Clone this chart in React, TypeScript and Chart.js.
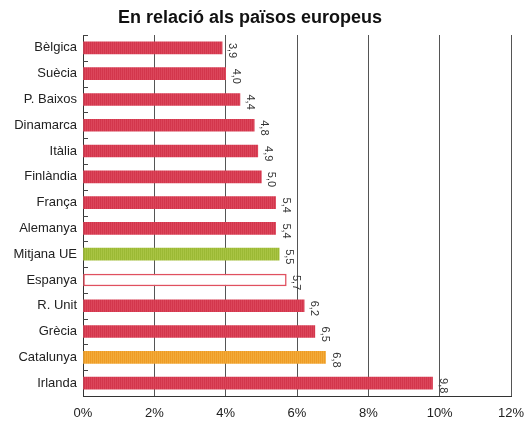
import React, { useEffect, useRef } from "react";
import { Chart, registerables } from "chart.js";

Chart.register(...registerables);

const TITLE = "En relació als països europeus";
const categories = [
  "Bèlgica", "Suècia", "P. Baixos", "Dinamarca", "Itàlia", "Finlàndia", "França",
  "Alemanya", "Mitjana UE", "Espanya", "R. Unit", "Grècia", "Catalunya", "Irlanda",
];
const values = [3.9, 4.0, 4.4, 4.8, 4.9, 5.0, 5.4, 5.4, 5.5, 5.7, 6.2, 6.5, 6.8, 9.8];
const kinds = ["c", "c", "c", "c", "c", "c", "c", "c", "eu", "es", "c", "c", "cat", "c"];
const xTicks = [0, 2, 4, 6, 8, 10, 12];

const FONT = "'Liberation Sans', Arial, Helvetica, sans-serif";

function stripes(a: string, b: string) {
  const c = document.createElement("canvas");
  c.width = 2;
  c.height = 2;
  const g = c.getContext("2d")!;
  g.fillStyle = a;
  g.fillRect(0, 0, 1, 2);
  g.fillStyle = b;
  g.fillRect(1, 0, 1, 2);
  return g.createPattern(c, "repeat") as CanvasPattern;
}

export default function App() {
  const ref = useRef<HTMLCanvasElement>(null);
  useEffect(() => {
    document.body.style.margin = "0";
    const red = stripes("#d3364c", "#dc465b");
    const green = stripes("#9bb934", "#a9c443");
    const orange = stripes("#ee9c25", "#f3ab3a");
    const fills = kinds.map((k) => (k === "eu" ? green : k === "cat" ? orange : k === "es" ? "#ffffff" : red));
    const borders = kinds.map((k) => (k === "es" ? "#e0505f" : "rgba(0,0,0,0)"));
    const borderW = kinds.map((k) => (k === "es" ? 1.5 : 0));

    const decor = {
      id: "decor",
      afterDatasetsDraw(chart: any) {
        const ctx = chart.ctx;
        const ca = chart.chartArea;
        ctx.save();
        ctx.strokeStyle = "#444";
        ctx.lineWidth = 1;
        const step = (ca.bottom - ca.top) / categories.length;
        for (let i = 0; i < categories.length; i++) {
          const yy = Math.round(ca.top + i * step) + 0.5;
          ctx.beginPath();
          ctx.moveTo(ca.left, yy);
          ctx.lineTo(ca.left + 5, yy);
          ctx.stroke();
        }
        const meta = chart.getDatasetMeta(0);
        ctx.fillStyle = "#333";
        ctx.font = `11px ${FONT}`;
        meta.data.forEach((bar: any, i: number) => {
          const top = bar.y - 5;
          ctx.save();
          ctx.translate(bar.x + 10, top);
          ctx.rotate(Math.PI / 2);
          ctx.textAlign = "left";
          ctx.textBaseline = "middle";
          ctx.fillText(values[i].toFixed(1).replace(".", ","), 0, 0);
          ctx.restore();
        });
        ctx.fillStyle = "#111";
        ctx.font = `bold 18px ${FONT}`;
        ctx.textAlign = "center";
        ctx.textBaseline = "middle";
        ctx.fillText(TITLE, 250, 18);
        ctx.restore();
      },
    };

    const chart = new Chart(ref.current!, {
      type: "bar",
      data: {
        labels: categories,
        datasets: [
          {
            data: values,
            backgroundColor: fills as any,
            borderColor: borders,
            borderWidth: borderW,
            borderSkipped: false,
            barThickness: 12,
          },
        ],
      },
      options: {
        indexAxis: "y",
        animation: false,
        responsive: false,
        devicePixelRatio: 1,
        layout: { padding: { top: 35, right: 14, left: 0, bottom: 0 } },
        plugins: { legend: { display: false }, tooltip: { enabled: false }, title: { display: false } },
        scales: {
          x: {
            min: 0,
            max: 12,
            afterBuildTicks(scale: any) {
              scale.ticks = xTicks.map((v) => ({ value: v }));
            },
            afterFit(scale: any) {
              scale.height = 25;
              scale.paddingLeft = 0;
              scale.paddingRight = 0;
            },
            ticks: {
              callback: (v: any) => `${v}%`,
              color: "#222",
              font: { family: FONT, size: 13 },
              padding: 10,
            },
            grid: { color: "#555", lineWidth: 1, drawTicks: false },
            border: { display: true, color: "#333", width: 1 },
          },
          y: {
            afterFit(scale: any) {
              scale.width = 83;
              scale.paddingTop = 0;
              scale.paddingBottom = 0;
            },
            ticks: {
              color: "#222",
              font: { family: FONT, size: 13 },
              padding: 6,
            },
            grid: { display: false, drawTicks: false },
            border: { display: true, color: "#333", width: 1 },
          },
        },
      },
      plugins: [decor],
    });
    return () => chart.destroy();
  }, []);
  return (
    <div style={{ width: 525, height: 421 }}>
      <canvas ref={ref} width={525} height={421} style={{ display: "block" }} />
    </div>
  );
}
